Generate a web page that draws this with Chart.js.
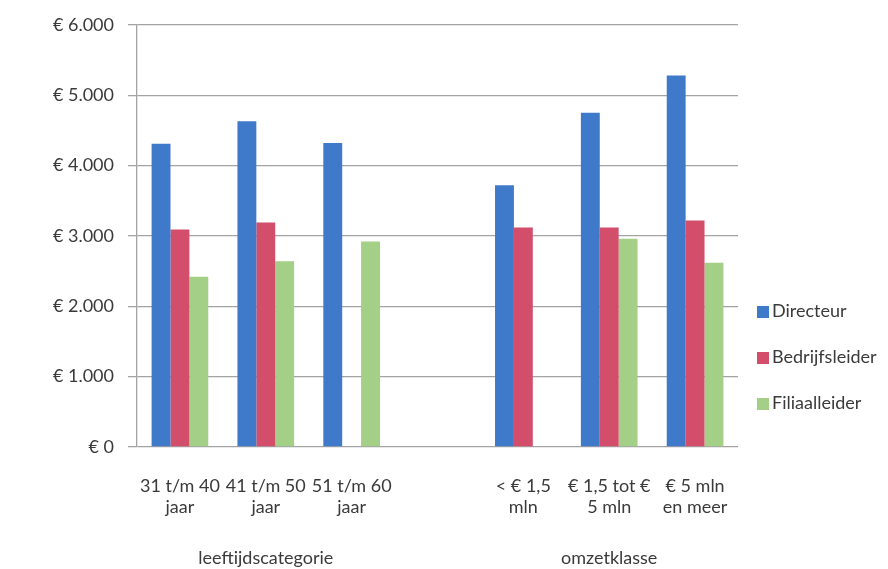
<html>
    <head>
        <title>Salaris per functie</title>
        <script src="https://cdn.jsdelivr.net/npm/chart.js@4.4.1/dist/chart.umd.min.js"></script>
        <style>
            body { margin: 0; background: #fff; }
            .wrap { position: relative; width: 888px; height: 569px; }
            #legend { position: absolute; left: 757px; top: 298px; font-family: Lato, sans-serif; font-size: 18px; color: #3a3a3a; }
            #legend div { height: 46px; line-height: 24px; white-space: nowrap; }
            #legend span { display: inline-block; width: 12px; height: 12px; margin-right: 3px; vertical-align: -1px; }
        </style>
    </head>
    <body>
        <div class="wrap">
            <canvas id="myChart" width="888" height="569"></canvas>
            <div id="legend"></div>
        </div>
        <script>
            // categories (second level under the axis)
            const categories = [['31 t/m 40', 'jaar'], ['41 t/m 50', 'jaar'], ['51 t/m 60', 'jaar'], '',
                ['< € 1,5', 'mln'], ['€ 1,5 tot €', '5 mln'], ['€ 5 mln', 'en meer']];
            const groupLabels = ['', 'leeftijdscategorie', '', '', '', 'omzetklasse', ''];

            const seriesNames = ['Directeur', 'Bedrijfsleider', 'Filiaalleider'];
            const directeur = [4310, 4630, 4320, null, 3720, 4750, 5280];
            const bedrijfsleider = [3090, 3190, null, null, 3120, 3120, 3220];
            const filiaalleider = [2420, 2640, 2920, null, null, 2960, 2620];
            const colors = ['#3f79c9', '#d24e6b', '#a4cf86'];

            const yMin = 0, yMax = 6000, yStep = 1000;

            function euro(v) {
                return '€ ' + String(v).replace(/\B(?=(\d{3})+(?!\d))/g, '.');
            }

            const tickFont = { family: 'Lato', size: 18 };
            const textColor = '#3a3a3a';
            const gridColor = '#a3a3a3';

            const ctx = document.getElementById('myChart').getContext('2d');
            const chart = new Chart(ctx, {
                type: 'bar',
                data: {
                    labels: categories,
                    datasets: [directeur, bedrijfsleider, filiaalleider].map(function (d, i) {
                        return {
                            label: seriesNames[i],
                            data: d,
                            backgroundColor: colors[i],
                            borderWidth: 0,
                            categoryPercentage: 0.66,
                            barPercentage: 1
                        };
                    })
                },
                options: {
                    responsive: false,
                    animation: false,
                    layout: { padding: { left: 0, right: 150, top: 24, bottom: 0 } },
                    plugins: {
                        legend: { display: false },
                        tooltip: { enabled: false }
                    },
                    scales: {
                        x: {
                            grid: { display: false },
                            border: { display: false },
                            ticks: { font: tickFont, color: textColor, padding: 20, maxRotation: 0, autoSkip: false },
                            afterFit: function (s) { s.height = 88; }
                        },
                        x2: {
                            type: 'category',
                            position: 'bottom',
                            labels: groupLabels,
                            offset: true,
                            grid: { display: false },
                            border: { display: false },
                            ticks: { font: tickFont, color: textColor, padding: 4, maxRotation: 0, autoSkip: false },
                            afterFit: function (s) { s.height = 34; }
                        },
                        y: {
                            min: yMin,
                            max: yMax,
                            ticks: {
                                stepSize: yStep,
                                font: tickFont,
                                color: textColor,
                                padding: 14,
                                callback: function (v) { return euro(v); }
                            },
                            grid: { color: gridColor, lineWidth: 1.3, tickLength: 9 },
                            border: { color: gridColor, width: 1.3 },
                            afterFit: function (s) { s.width = 137; }
                        }
                    }
                }
            });

            var legend = document.getElementById('legend');
            seriesNames.forEach(function (n, i) {
                legend.innerHTML += '<div><span style="background:' + colors[i] + '"></span>' + n + '</div>';
            });
        </script>
    </body>
</html>
